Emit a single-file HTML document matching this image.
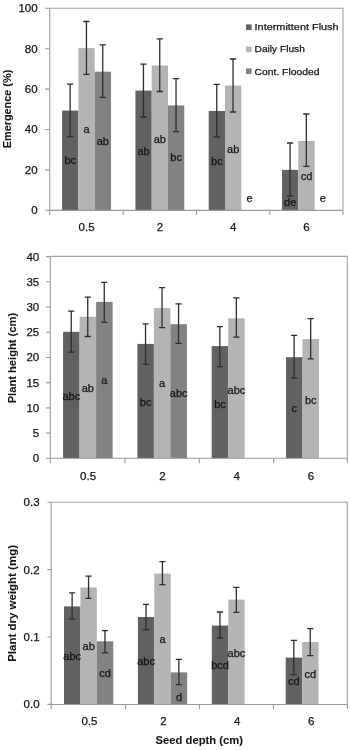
<!DOCTYPE html>
<html><head><meta charset="utf-8"><title>Seed depth charts</title>
<style>
html,body{margin:0;padding:0;background:#fff;}
body{width:350px;height:750px;overflow:hidden;}
svg{display:block;}
text{font-family:'Liberation Sans', Arial, sans-serif;fill:#141414;stroke:#141414;stroke-width:0.25px;}
.tk{font-size:11.5px;}
.lab{font-size:11px;text-anchor:middle;}
.leg{font-size:9.8px;}
.ttl{font-size:10.5px;font-weight:bold;stroke-width:0.05px;}
</style></head>
<body>
<svg width="350" height="750" viewBox="0 0 350 750">
<rect width="350" height="750" fill="#fff"/>
<path d="M49.7 8.2H343V210.4" fill="none" stroke="#a4a4a4" stroke-width="1.1"/>
<rect x="62.12" y="110.6" width="16.29" height="99.8" fill="#616161"/>
<rect x="78.41" y="48.1" width="16.29" height="162.3" fill="#b4b4b4"/>
<rect x="94.69" y="71.7" width="16.29" height="138.7" fill="#828282"/>
<rect x="135.42" y="90.6" width="16.29" height="119.8" fill="#616161"/>
<rect x="151.71" y="65.5" width="16.29" height="144.9" fill="#b4b4b4"/>
<rect x="167.99" y="105.4" width="16.29" height="105" fill="#828282"/>
<rect x="208.72" y="111" width="16.29" height="99.4" fill="#616161"/>
<rect x="225.01" y="85.6" width="16.29" height="124.8" fill="#b4b4b4"/>
<rect x="282.02" y="169.9" width="16.29" height="40.5" fill="#616161"/>
<rect x="298.31" y="141" width="16.29" height="69.4" fill="#b4b4b4"/>
<path d="M70.16 84.1V136.6M67.06 84.1h6.2M67.06 136.6h6.2M86.45 21.5V74.4M83.35 21.5h6.2M83.35 74.4h6.2M102.74 44.9V97.3M99.64 44.9h6.2M99.64 97.3h6.2M143.46 64.2V117M140.36 64.2h6.2M140.36 117h6.2M159.75 38.8V91.5M156.65 38.8h6.2M156.65 91.5h6.2M176.04 78.7V131.7M172.94 78.7h6.2M172.94 131.7h6.2M216.76 84.4V137M213.66 84.4h6.2M213.66 137h6.2M233.05 59V112M229.95 59h6.2M229.95 112h6.2M290.06 143V196M286.96 143h6.2M286.96 196h6.2M306.35 114V166.4M303.25 114h6.2M303.25 166.4h6.2" stroke="#2e2e2e" stroke-width="1.3" fill="none"/>
<text x="70.26" y="164.3" class="lab">bc</text>
<text x="86.55" y="133" class="lab">a</text>
<text x="102.84" y="144.7" class="lab">ab</text>
<text x="143.56" y="155" class="lab">ab</text>
<text x="159.85" y="142.7" class="lab">ab</text>
<text x="176.14" y="161.1" class="lab">bc</text>
<text x="216.86" y="165.1" class="lab">bc</text>
<text x="233.15" y="152.6" class="lab">ab</text>
<text x="249.44" y="201.5" class="lab">e</text>
<text x="290.16" y="205.8" class="lab">de</text>
<text x="306.45" y="180.3" class="lab">cd</text>
<text x="322.74" y="201.5" class="lab">e</text>
<text x="37.6" y="214.2" class="tk" text-anchor="end">0</text>
<text x="37.6" y="173.8" class="tk" text-anchor="end">20</text>
<text x="37.6" y="133.4" class="tk" text-anchor="end">40</text>
<text x="37.6" y="93" class="tk" text-anchor="end">60</text>
<text x="37.6" y="52.6" class="tk" text-anchor="end">80</text>
<text x="37.6" y="12.2" class="tk" text-anchor="end">100</text>
<path d="M49.7 8.2V210.4M49.7 210.4H343M45 210.3H49.7M45 169.9H49.7M45 129.5H49.7M45 89.1H49.7M45 48.7H49.7M45 8.3H49.7M49.7 210.4V215.1M123.2 210.4V215.1M196.5 210.4V215.1M269.8 210.4V215.1M343 210.4V215.1" stroke="#9a9a9a" stroke-width="1.1" fill="none"/>
<text x="86.55" y="231" class="tk" text-anchor="middle">0.5</text>
<text x="159.85" y="231" class="tk" text-anchor="middle">2</text>
<text x="233.15" y="231" class="tk" text-anchor="middle">4</text>
<text x="306.45" y="231" class="tk" text-anchor="middle">6</text>
<text transform="translate(10.8 109) rotate(-90)" class="ttl" text-anchor="middle" textLength="78.5" lengthAdjust="spacingAndGlyphs">Emergence (%)</text>
<path d="M50.3 256.4H347.3V458.3" fill="none" stroke="#a4a4a4" stroke-width="1.1"/>
<rect x="63.08" y="331.8" width="16.51" height="126.5" fill="#616161"/>
<rect x="79.59" y="316.8" width="16.51" height="141.5" fill="#b4b4b4"/>
<rect x="96.11" y="301.9" width="16.51" height="156.4" fill="#828282"/>
<rect x="137.38" y="343.9" width="16.51" height="114.4" fill="#616161"/>
<rect x="153.89" y="308.1" width="16.51" height="150.2" fill="#b4b4b4"/>
<rect x="170.41" y="324.2" width="16.51" height="134.1" fill="#828282"/>
<rect x="211.68" y="346.1" width="16.51" height="112.2" fill="#616161"/>
<rect x="228.19" y="318.3" width="16.51" height="140" fill="#b4b4b4"/>
<rect x="285.98" y="357.2" width="16.51" height="101.1" fill="#616161"/>
<rect x="302.49" y="339.1" width="16.51" height="119.2" fill="#b4b4b4"/>
<path d="M71.24 311.2V352.1M68.14 311.2h6.2M68.14 352.1h6.2M87.75 297.1V336.5M84.65 297.1h6.2M84.65 336.5h6.2M104.26 282.4V322.4M101.16 282.4h6.2M101.16 322.4h6.2M145.54 323.9V364.3M142.44 323.9h6.2M142.44 364.3h6.2M162.05 287.6V327.6M158.95 287.6h6.2M158.95 327.6h6.2M178.56 303.8V343.4M175.46 303.8h6.2M175.46 343.4h6.2M219.84 326.6V366.6M216.74 326.6h6.2M216.74 366.6h6.2M236.35 297.9V337.2M233.25 297.9h6.2M233.25 337.2h6.2M294.14 335.3V378M291.04 335.3h6.2M291.04 378h6.2M310.65 318.7V358.9M307.55 318.7h6.2M307.55 358.9h6.2" stroke="#2e2e2e" stroke-width="1.3" fill="none"/>
<text x="71.34" y="399.5" class="lab">abc</text>
<text x="87.85" y="391.5" class="lab">ab</text>
<text x="104.36" y="384.1" class="lab">a</text>
<text x="145.64" y="405.9" class="lab">bc</text>
<text x="162.15" y="387.1" class="lab">a</text>
<text x="178.66" y="396.5" class="lab">abc</text>
<text x="219.94" y="408" class="lab">bc</text>
<text x="236.45" y="393.5" class="lab">abc</text>
<text x="294.24" y="412.3" class="lab">c</text>
<text x="310.75" y="403.8" class="lab">bc</text>
<text x="39.2" y="462.2" class="tk" text-anchor="end">0</text>
<text x="39.2" y="436.99" class="tk" text-anchor="end">5</text>
<text x="39.2" y="411.77" class="tk" text-anchor="end">10</text>
<text x="39.2" y="386.56" class="tk" text-anchor="end">15</text>
<text x="39.2" y="361.35" class="tk" text-anchor="end">20</text>
<text x="39.2" y="336.14" class="tk" text-anchor="end">25</text>
<text x="39.2" y="310.92" class="tk" text-anchor="end">30</text>
<text x="39.2" y="285.71" class="tk" text-anchor="end">35</text>
<text x="39.2" y="260.5" class="tk" text-anchor="end">40</text>
<path d="M50.3 256.4V458.3M50.3 458.3H347.3M46.1 458.3H50.3M46.1 433.09H50.3M46.1 407.88H50.3M46.1 382.66H50.3M46.1 357.45H50.3M46.1 332.24H50.3M46.1 307.02H50.3M46.1 281.81H50.3M46.1 256.6H50.3M50.3 458.3V463.3M125 458.3V463.3M199.3 458.3V463.3M273.6 458.3V463.3M347.3 458.3V463.3" stroke="#9a9a9a" stroke-width="1.1" fill="none"/>
<text x="88.05" y="479.6" class="tk" text-anchor="middle">0.5</text>
<text x="162.35" y="479.6" class="tk" text-anchor="middle">2</text>
<text x="236.65" y="479.6" class="tk" text-anchor="middle">4</text>
<text x="310.95" y="479.6" class="tk" text-anchor="middle">6</text>
<text transform="translate(16.4 358.1) rotate(-90)" class="ttl" text-anchor="middle" textLength="90.5" lengthAdjust="spacingAndGlyphs">Plant height (cm)</text>
<path d="M51.2 502.2H347.4V704.5" fill="none" stroke="#a4a4a4" stroke-width="1.1"/>
<rect x="64.02" y="606.4" width="16.42" height="98.1" fill="#616161"/>
<rect x="80.44" y="587.5" width="16.42" height="117" fill="#b4b4b4"/>
<rect x="96.86" y="641.3" width="16.42" height="63.2" fill="#828282"/>
<rect x="137.92" y="617" width="16.42" height="87.5" fill="#616161"/>
<rect x="154.34" y="573.6" width="16.42" height="130.9" fill="#b4b4b4"/>
<rect x="170.76" y="672.4" width="16.42" height="32.1" fill="#828282"/>
<rect x="211.82" y="625.6" width="16.42" height="78.9" fill="#616161"/>
<rect x="228.24" y="599.6" width="16.42" height="104.9" fill="#b4b4b4"/>
<rect x="285.72" y="657.6" width="16.42" height="46.9" fill="#616161"/>
<rect x="302.14" y="642" width="16.42" height="62.5" fill="#b4b4b4"/>
<path d="M72.13 592.9V619.1M69.03 592.9h6.2M69.03 619.1h6.2M88.55 576.2V598.4M85.45 576.2h6.2M85.45 598.4h6.2M104.97 630.6V652.9M101.87 630.6h6.2M101.87 652.9h6.2M146.03 604.4V629.6M142.93 604.4h6.2M142.93 629.6h6.2M162.45 561.6V584.6M159.35 561.6h6.2M159.35 584.6h6.2M178.87 659.4V684.6M175.77 659.4h6.2M175.77 684.6h6.2M219.93 612V638M216.83 612h6.2M216.83 638h6.2M236.35 587.4V612.4M233.25 587.4h6.2M233.25 612.4h6.2M293.83 640.4V674.6M290.73 640.4h6.2M290.73 674.6h6.2M310.25 628.6V655.6M307.15 628.6h6.2M307.15 655.6h6.2" stroke="#2e2e2e" stroke-width="1.3" fill="none"/>
<text x="72.23" y="659.6" class="lab">abc</text>
<text x="88.65" y="649.6" class="lab">ab</text>
<text x="105.07" y="677.4" class="lab">cd</text>
<text x="146.13" y="665.1" class="lab">abc</text>
<text x="162.55" y="642.5" class="lab">a</text>
<text x="178.97" y="700.5" class="lab">d</text>
<text x="220.03" y="669.1" class="lab">bcd</text>
<text x="236.45" y="657.1" class="lab">abc</text>
<text x="293.93" y="685.1" class="lab">cd</text>
<text x="310.35" y="677.5" class="lab">cd</text>
<text x="39.6" y="708.3" class="tk" text-anchor="end">0.0</text>
<text x="39.6" y="640.93" class="tk" text-anchor="end">0.1</text>
<text x="39.6" y="573.57" class="tk" text-anchor="end">0.2</text>
<text x="39.6" y="506.2" class="tk" text-anchor="end">0.3</text>
<path d="M51.2 502.2V704.5M51.2 704.5H347.4M47.4 704.4H51.2M47.4 637.03H51.2M47.4 569.67H51.2M47.4 502.3H51.2M51.2 704.5V709.2M125.6 704.5V709.2M199.5 704.5V709.2M273.4 704.5V709.2M347.4 704.5V709.2" stroke="#9a9a9a" stroke-width="1.1" fill="none"/>
<text x="89.45" y="724.5" class="tk" text-anchor="middle">0.5</text>
<text x="163.35" y="724.5" class="tk" text-anchor="middle">2</text>
<text x="237.25" y="724.5" class="tk" text-anchor="middle">4</text>
<text x="311.15" y="724.5" class="tk" text-anchor="middle">6</text>
<text transform="translate(16.4 603.4) rotate(-90)" class="ttl" text-anchor="middle" textLength="116.8" lengthAdjust="spacingAndGlyphs">Plant dry weight (mg)</text>
<rect x="246" y="24.4" width="5.6" height="5.6" fill="#616161"/>
<text x="254.6" y="30.0" class="leg" textLength="84.0" lengthAdjust="spacingAndGlyphs">Intermittent Flush</text>
<rect x="246" y="46.5" width="5.6" height="5.6" fill="#b4b4b4"/>
<text x="254.6" y="52.1" class="leg" textLength="50.2" lengthAdjust="spacingAndGlyphs">Daily Flush</text>
<rect x="246" y="68.4" width="5.6" height="5.6" fill="#828282"/>
<text x="254.6" y="74.6" class="leg" textLength="64.8" lengthAdjust="spacingAndGlyphs">Cont. Flooded</text>
<text x="199.3" y="743.7" class="ttl" style="font-size:10.2px" text-anchor="middle" textLength="87.4" lengthAdjust="spacingAndGlyphs">Seed depth (cm)</text>
</svg>
</body></html>
